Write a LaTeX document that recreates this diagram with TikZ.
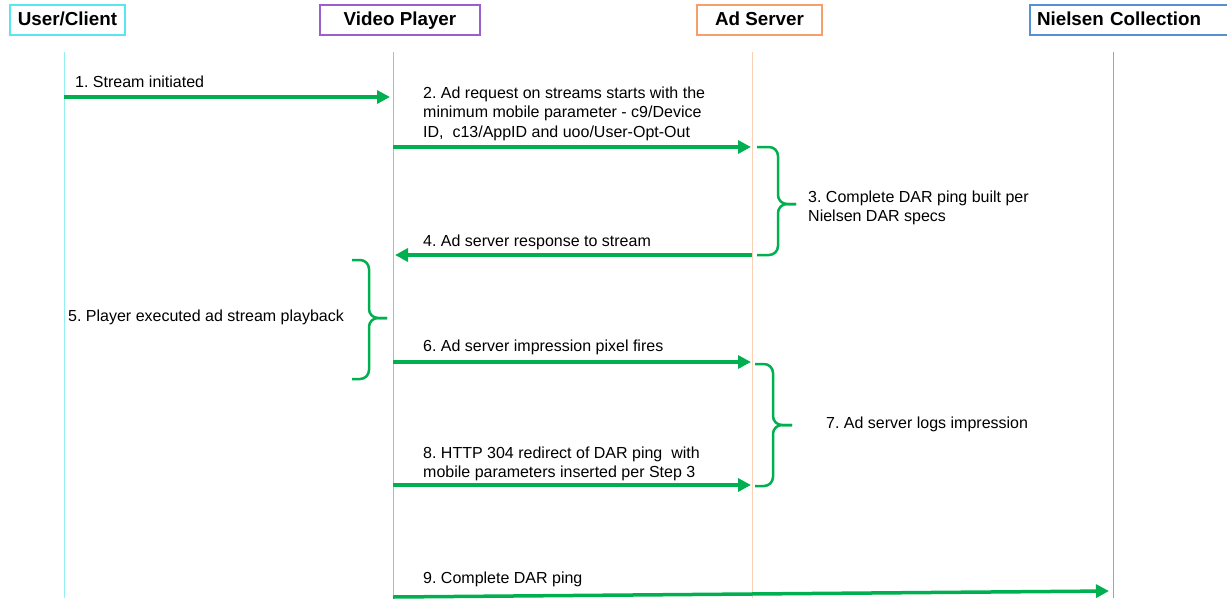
\documentclass[tikz,border=0pt]{standalone}
\usepackage{fontspec}
\setmainfont{Liberation Sans}
\usepackage{tikz}
\usepackage{xcolor}
\usetikzlibrary{positioning, arrows.meta}
\frenchspacing
\definecolor{ucline}{RGB}{90, 230, 240}
\definecolor{vpline}{RGB}{155, 95, 205}
\definecolor{asline}{RGB}{245, 160, 105}
\definecolor{ncline}{RGB}{85, 145, 210}
\definecolor{msggreen}{RGB}{0, 176, 80}
\tikzset{
    header/.style={draw, line width=1.5pt, minimum height=30pt, inner sep=0pt, outer sep=0pt, text height=14pt, text depth=4pt, font=\fontsize{18.8}{22}\selectfont\bfseries},
    lifeline/.style={line width=1pt},
    msg/.style={draw=msggreen, line width=3.5pt, -{Triangle[length=13pt, width=13pt]}},
    msgtext/.style={inner sep=0pt, align=left, font=\fontsize{16}{19.5}\selectfont},
    stepbrace/.style={draw=msggreen, line width=2.5pt, rounded corners=9pt}
}

\begin{document}
\begin{tikzpicture}[x=1pt, y=-1pt]
    \useasboundingbox (0,0) rectangle (1227,598);

    % participants
    \node[header, draw=ucline, minimum width=115pt, anchor=north west] (uc) at (10,5) {User/Client};
    \node[header, draw=vpline, minimum width=160pt, right=195pt of uc] (vp) {Video Player};
    \node[header, draw=asline, minimum width=125pt, right=217pt of vp] (as) {Ad Server};
    \node[header, draw=ncline, inner xsep=7pt, text width=200pt, align=left, right=208pt of as] (nc) {Nielsen Collection};

    % lifelines
    \coordinate (uctop) at (64,52);   \coordinate (ucbot) at (64,598);
    \coordinate (vptop) at (393,52);  \coordinate (vpbot) at (393,598);
    \coordinate (astop) at (752,52);  \coordinate (asbot) at (752,598);
    \coordinate (nctop) at (1113,52); \coordinate (ncbot) at (1113,598);
    \draw[lifeline, ucline!65] (uctop) -- (ucbot);
    \draw[lifeline, vpline!55] (vptop) -- (vpbot);
    \draw[lifeline, asline!50] (astop) -- (asbot);
    \draw[lifeline, ncline!75] (nctop) -- (ncbot);

    % message ends
    \coordinate (uc1) at (64,97);   \coordinate (vp1) at (390,97);
    \coordinate (vp2) at (393,147); \coordinate (as2) at (751,147);
    \coordinate (as4) at (752,255); \coordinate (vp4) at (395,255);
    \coordinate (vp6) at (393,362); \coordinate (as6) at (751,362);
    \coordinate (vp8) at (393,485); \coordinate (as8) at (751,485);
    \coordinate (vp9) at (393,597); \coordinate (nc9) at (1109,591);

    \draw[msg] (uc1) -- (vp1);
    \draw[msg] (vp2) -- (as2);
    \draw[msg] (as4) -- (vp4);
    \draw[msg] (vp6) -- (as6);
    \draw[msg] (vp8) -- (as8);
    \draw[msg] (vp9) -- (nc9);

    \node[msgtext, anchor=base west] (t1) at (75,87) {1. Stream initiated};
    \node[msgtext, anchor=north west] (t2) at (423,86.5) {2. Ad request on streams starts with the\\minimum mobile parameter - c9/Device\\ID,~ c13/AppID and uoo/User-Opt-Out};
    \node[msgtext, anchor=north west] (t3) at (808,190.5) {3. Complete DAR ping built per\\Nielsen DAR specs};
    \node[msgtext, anchor=base west] (t4) at (423,246) {4. Ad server response to stream};
    \node[msgtext, anchor=base west] (t5) at (68,321) {5. Player executed ad stream playback};
    \node[msgtext, anchor=base west] (t6) at (423,351) {6. Ad server impression pixel fires};
    \node[msgtext, anchor=base west] (t7) at (826,428) {7. Ad server logs impression};
    \node[msgtext, anchor=north west] (t8) at (423,446.5) {8. HTTP 304 redirect of DAR ping~ with\\mobile parameters inserted per Step 3};
    \node[msgtext, anchor=base west] (t9) at (423,583) {9. Complete DAR ping};

    % braces
    \draw[stepbrace] (757,147) -- (778,147) -- (778,204) -- (796,204);
    \draw[stepbrace] (757,255) -- (778,255) -- (778,204) -- (796,204);
    \draw[stepbrace] (352,260) -- (369,260) -- (369,318) -- (387,318);
    \draw[stepbrace] (352,379) -- (369,379) -- (369,318) -- (387,318);
    \draw[stepbrace] (755,364) -- (773,364) -- (773,425) -- (792,425);
    \draw[stepbrace] (755,486) -- (773,486) -- (773,425) -- (792,425);
\end{tikzpicture}
\end{document}
